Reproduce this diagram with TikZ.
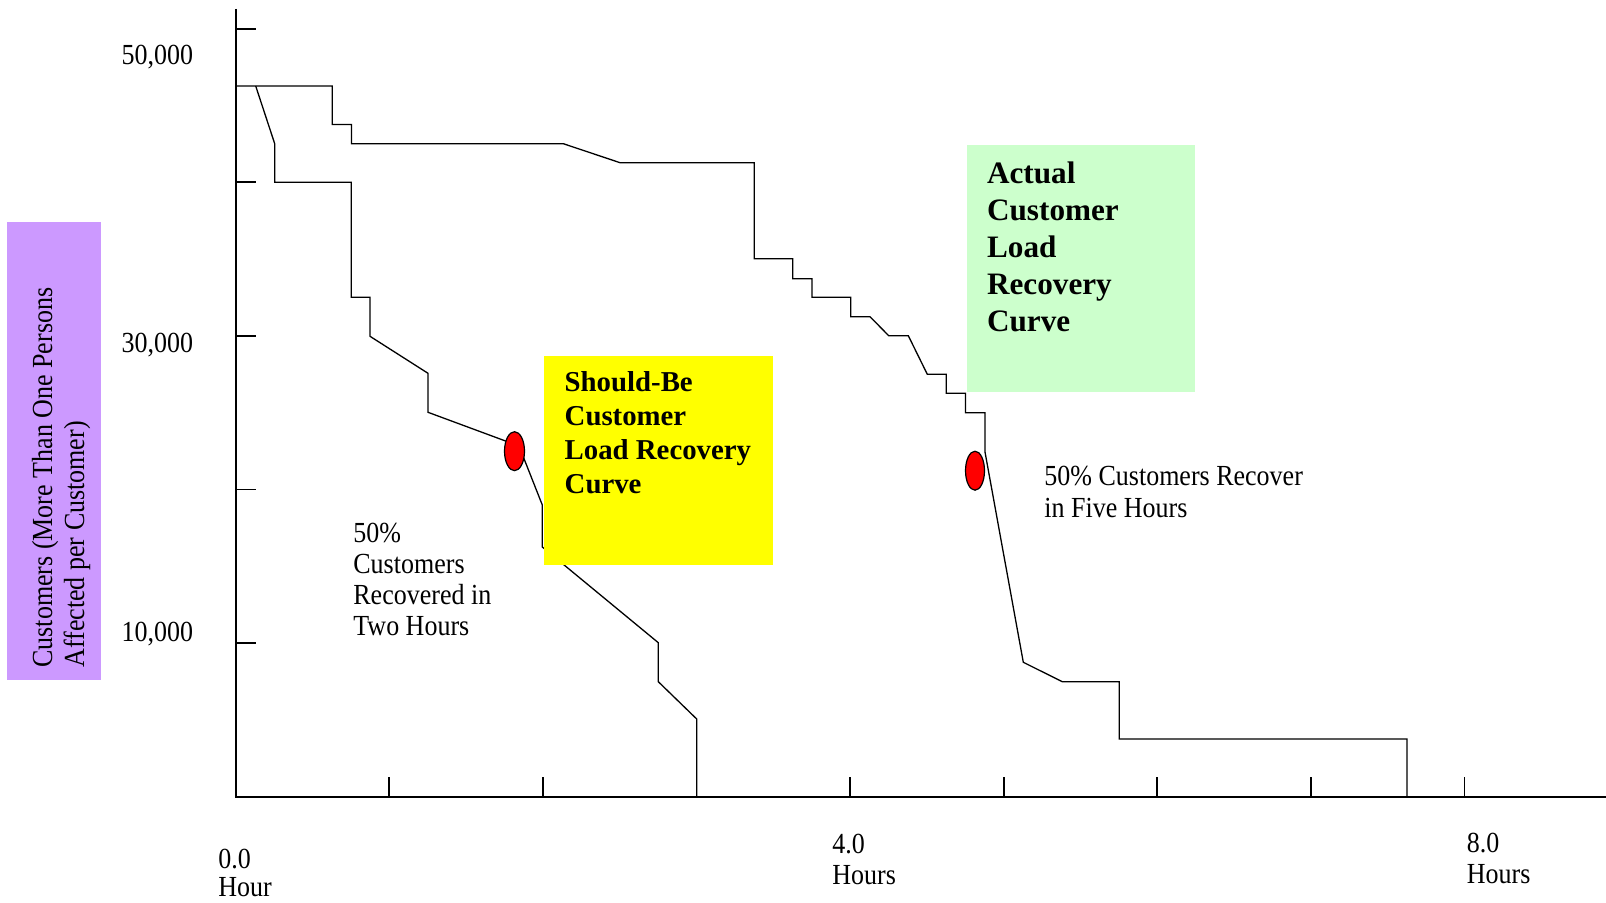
\documentclass[tikz,border=0pt]{standalone}
\usepackage{fontspec}
\setmainfont{Liberation Serif}
\usepackage{graphicx}
\definecolor{notegold}{HTML}{FFFF00}
\definecolor{notemint}{HTML}{CCFFCC}
\definecolor{notelilac}{HTML}{CC99FF}
% left-aligned block of lines whose baseline is that of its first line
\newcommand\stack[1]{\begin{tabular}[t]{@{}l@{}}#1\end{tabular}}
% the serif labels are set slightly taller than wide
\newcommand\tallbox[1]{\scalebox{1}[1.12]{#1}}

\begin{document}
\begin{tikzpicture}[x=0.5pt,y=-0.5pt,
  axis/.style={line width=0.85pt},
  curve/.style={line width=0.65pt, line join=miter},
  marker/.style={draw=black, line width=0.6pt, fill=red},
  lbl/.style={inner sep=0pt, anchor=base west, font=\fontsize{13}{13.84}\selectfont},
  headY/.style={inner sep=0pt, anchor=base west, font=\bfseries\fontsize{14.4}{17}\selectfont},
  headG/.style={inner sep=0pt, anchor=base west, font=\bfseries\fontsize{15.6}{18.5}\selectfont}]
\useasboundingbox (0,0) rectangle (1606,903);
\fill[white] (0,0) rectangle (1606,903);

% recovery curves
\draw[curve] (255.7,86) -- (274.7,143.7) -- (274.7,182.3) -- (351.3,182.3)
  -- (351.3,297.3) -- (370,297.3) -- (370,336.3) -- (428,373.3) -- (428,412.3)
  -- (519,446) -- (542.3,505) -- (542.3,547) -- (658.3,642.7) -- (658.3,681.7)
  -- (696.7,719) -- (696.7,797);
\draw[curve] (236,86) -- (332.3,86) -- (332.3,124.5) -- (351.5,124.5)
  -- (351.5,143.7) -- (563.3,143.7) -- (620,162.7) -- (754.3,162.7)
  -- (754.3,258.7) -- (792.7,258.7) -- (792.7,278.7) -- (812,278.7)
  -- (812,297.3) -- (850.7,297.3) -- (850.7,316.7) -- (870,316.7)
  -- (888.7,335.7) -- (908.3,335.7) -- (927.3,374.3) -- (946.2,374.3)
  -- (946.2,393.3) -- (965.4,393.3) -- (965.4,412.7) -- (985,412.7)
  -- (985,452) -- (1023.3,662.3) -- (1062.3,681.7) -- (1119.3,681.7)
  -- (1119.3,739) -- (1407,739) -- (1407,797);

% axes and ticks
\draw[axis] (236,9) -- (236,797) -- (1606,797);
\foreach \y in {28.7,182.3,336,489.6,643.2}
  \draw[axis] (236,\y) -- (256,\y);
\foreach \x in {389.2,542.8,696.5,850,1003.7,1157.3,1311,1464.6}
  \draw[axis] (\x,797) -- (\x,777);

% note boxes
\fill[notegold] (543.8,356.4) rectangle (772.5,565);
\fill[notemint] (966.8,144.6) rectangle (1195.2,392.3);
\fill[notelilac] (7,222) rectangle (100.6,680);

% 50 % recovery markers
\draw[marker] (514.5,451.2) ellipse [x radius=10, y radius=19.5];
\draw[marker] (975,470.7) ellipse [x radius=9.5, y radius=19.5];

% axis labels
\node[lbl, anchor=base east] (y50) at (193.5,65) {\tallbox{50,000}};
\node[lbl, anchor=base east] (y30) at (193.5,353) {\tallbox{30,000}};
\node[lbl, anchor=base east] (y10) at (193.5,641) {\tallbox{10,000}};
\node[lbl, font=\fontsize{13}{12.9}\selectfont] (x0) at (218,868)
  {\tallbox{\stack{0.0\\Hour}}};
\node[lbl] (x4) at (832,853) {\tallbox{\stack{4.0\\Hours}}};
\node[lbl] (x8) at (1466.5,852) {\tallbox{\stack{8.0\\Hours}}};
\node[lbl, rotate=90, font=\fontsize{13}{14.3}\selectfont] (ytitle) at (52,668)
  {\tallbox{\stack{Customers (More Than One Persons\\Affected per Customer)}}};

% annotations
\node[lbl] (twohours) at (353,542.7)
  {\tallbox{\stack{50\%\\Customers\\Recovered in\\Two Hours}}};
\node[lbl] (fivehours) at (1044,486)
  {\tallbox{\stack{50\% Customers Recover\\in Five Hours}}};
\node[headY] (shouldbe) at (564.3,392)
  {\stack{Should-Be\\Customer\\Load Recovery\\Curve}};
\node[headG] (actual) at (986.7,184)
  {\stack{Actual\\Customer\\Load\\Recovery\\Curve}};
\end{tikzpicture}
\end{document}
